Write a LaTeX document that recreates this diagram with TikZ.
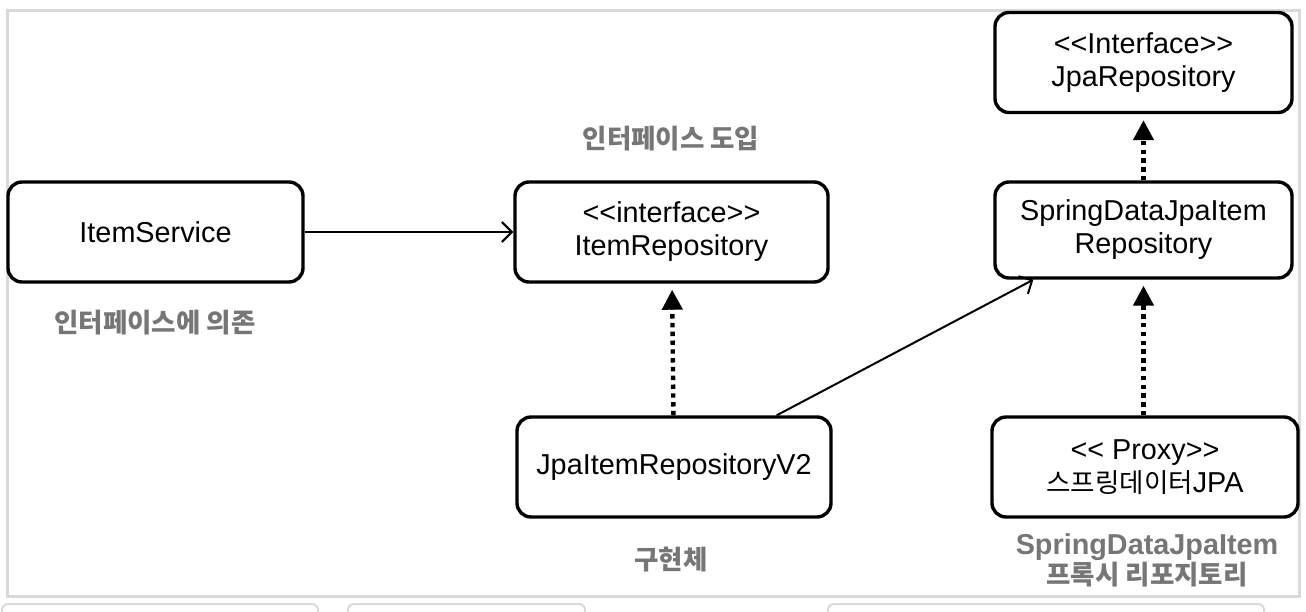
\documentclass[tikz,border=0pt]{standalone}
\usepackage{fontspec}
\newfontfamily\uifont{Liberation Sans}
\newfontfamily\kr{Noto Sans CJK KR}[Scale=0.92]
\usetikzlibrary{arrows.meta}

\definecolor{framegray}{RGB}{217,217,217}
\definecolor{notegray}{RGB}{118,118,118}

\tikzset{
  cls/.style={draw, line width=1.7pt, rounded corners=7pt, align=center,
    minimum height=50pt, inner sep=2pt,
    font=\uifont\fontsize{14.4}{16.5}\selectfont},
  note/.style={text=notegray, align=center,
    font=\uifont\bfseries\fontsize{14.4}{15}\selectfont},
  uses/.style={-{Straight Barb[length=5pt,width=10pt]}, line width=1pt},
  realizes/.style={-{Triangle[length=10pt,width=10pt]}, line width=2.2pt,
    dash pattern=on 2.2pt off 2.2pt, shorten >=3pt},
}

\begin{document}
\begin{tikzpicture}[x=0.5pt, y=-0.5pt]
  \useasboundingbox (0,0) rectangle (1306,611);
  % frame and the cut boxes below it
  \draw[framegray, line width=1.5pt] (7,10) rectangle (1299,596);
  \draw[framegray, line width=1pt, rounded corners=3pt] (2,612) |- (318,604) -- (318,612);
  \draw[framegray, line width=1pt, rounded corners=3pt] (348,612) |- (585,604) -- (585,612);
  \draw[framegray, line width=1pt, rounded corners=3pt] (828,612) |- (1264,604) -- (1264,612);

  % classes
  \node[cls, minimum width=147.5pt] (itemService) at (155.5,232) {ItemService};
  \node[cls, minimum width=156.5pt] (itemRepository) at (671.5,232) {<<interface>>\\ItemRepository};
  \node[cls, minimum width=157pt] (jpaItemRepositoryV2) at (674,467) {JpaItemRepositoryV2};
  \node[cls, minimum width=148.5pt] (jpaRepository) at (1143.5,62.5) {<<Interface>>\\JpaRepository};
  \node[cls, minimum width=148.5pt, minimum height=48pt] (springDataJpaItemRepository) at (1143.5,230) {SpringDataJpaItem\\Repository};
  \node[cls, minimum width=153pt] (proxy) at (1145,467) {<< Proxy>>\\{\kr 스프링데이터}JPA};

  % notes
  \node[note] (introNote) at (671,139) {\kr 인터페이스 도입};
  \node[note] (dependNote) at (155,323) {\kr 인터페이스에 의존};
  \node[note] (implNote) at (671,560) {\kr 구현체};
  \node[note] (proxyNote) at (1147,560) {SpringDataJpaItem\\{\kr 프록시 리포지토리}};

  % relations
  \draw[uses] (itemService) -- (itemRepository);
  \draw[realizes] (jpaItemRepositoryV2) -- (itemRepository);
  \draw[uses] ([xshift=-28pt]jpaItemRepositoryV2.north east) -- ([xshift=20pt]springDataJpaItemRepository.south west);
  \draw[realizes] (proxy.north -| springDataJpaItemRepository) -- (springDataJpaItemRepository);
  \draw[realizes] (springDataJpaItemRepository) -- (jpaRepository);
\end{tikzpicture}
\end{document}
